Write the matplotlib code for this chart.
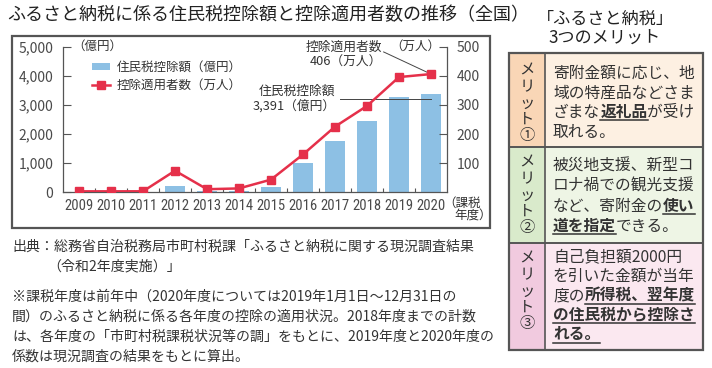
import matplotlib
matplotlib.use('Agg')
import matplotlib.pyplot as plt
from matplotlib import font_manager
from matplotlib.patches import Rectangle
from matplotlib.lines import Line2D
import numpy as np

# ---------------- data ----------------
years = ['2009', '2010', '2011', '2012', '2013', '2014', '2015',
         '2016', '2017', '2018', '2019', '2020']
deduction_oku = [19, 20, 19, 213, 45, 55, 180, 1002, 1767, 2448, 3265, 3391]   # 億円
persons_man = [3.3, 3.3, 3.4, 74.1, 10.6, 13.3, 43.6, 129.9, 225.4, 296.7, 395.7, 406.0]  # 万人
left_ticks = [0, 1000, 2000, 3000, 4000, 5000]
right_ticks = [100, 200, 300, 400, 500]

title = 'ふるさと納税に係る住民税控除額と控除適用者数の推移（全国）'
legend_labels = ['住民税控除額（億円）', '控除適用者数（万人）']
note_source = ['出典：総務省自治税務局市町村税課「ふるさと納税に関する現況調査結果',
               '（令和2年度実施）」']
note_lines = ['※課税年度は前年中（2020年度については2019年1月1日～12月31日の',
              '間）のふるさと納税に係る各年度の控除の適用状況。2018年度までの計数',
              'は、各年度の「市町村税課税状況等の調」をもとに、2019年度と2020年度の',
              '係数は現況調査の結果をもとに算出。']
panel_title = ['「ふるさと納税」', '3つのメリット']
merit_labels = ['メリット①', 'メリット②', 'メリット③']
# each merit: list of lines; each line: list of (text, bold_underlined)
merit_texts = [
    [[('寄附金額に応じ、地', False)],
     [('域の特産品などさま', False)],
     [('ざまな', False), ('返礼品', True), ('が受け', False)],
     [('取れる。', False)]],
    [[('被災地支援、新型コ', False)],
     [('ロナ禍での観光支援', False)],
     [('など、寄附金の', False), ('使い', True)],
     [('道を指定', True), ('できる。', False)]],
    [[('自己負担額2000円', False)],
     [('を引いた金額が当年', False)],
     [('度の', False), ('所得税、翌年度', True)],
     [('の住民税から控除さ', True)],
     [('れる。', True)]],
]

# ---------------- style ----------------
plt.rcParams['font.family'] = ['Noto Sans CJK JP', 'DejaVu Sans']
names = {f.name for f in font_manager.fontManager.ttflist}
NARROW = None
for cand in ['Liberation Sans Narrow', 'Roboto Condensed', 'Open Sans Condensed']:
    if cand in names:
        NARROW = cand
        break

TXT = '#333333'
TICK = '#4a4a4a'
BAR = '#8dc0e4'
RED = '#e5304a'
W, H = 712, 368

fig = plt.figure(figsize=(W / 100, H / 100), dpi=100)
fig.patch.set_facecolor('white')


def fx(x):
    return x / W


def fy(y):
    return 1 - y / H


# frame around chart
fig.add_artist(Rectangle((fx(12), fy(228)), (490 - 12) / W, (228 - 36) / H,
                         transform=fig.transFigure, fill=False,
                         edgecolor='#555555', lw=1.6))

fig.text(fx(7), fy(15), title, fontsize=13.0, color='#222222',
         ha='left', va='center')

# ---------------- chart ----------------
ax = fig.add_axes([fx(63), fy(192.3), 384 / W, 145.6 / H])
ax2 = ax.twinx()
x = np.arange(len(years))

bars = ax.bar(x, deduction_oku, width=0.6, color=BAR, zorder=2)
ax.set_xlim(-0.5, len(years) - 0.5)
ax.set_ylim(0, 5000)
ax.set_yticks(left_ticks)
ax.set_yticklabels([f'{v:,}' for v in left_ticks])
ax.set_xticks(x)
ax.set_xticklabels(years)
ax.set_xticks(np.arange(len(years) - 1) + 0.5, minor=True)
if NARROW:
    ax.tick_params(axis='x', which='major', length=0, pad=5, labelsize=10.5,
                   labelcolor=TICK)
    for lab in ax.get_xticklabels():
        lab.set_fontfamily(NARROW)
else:
    ax.tick_params(axis='x', which='major', length=0, pad=5, labelsize=9.2,
                   labelcolor=TICK)
ax.tick_params(axis='x', which='minor', length=3, direction='in',
               color='#555555', width=0.8)
ax.tick_params(axis='y', length=6, direction='in', color='#555555',
               width=0.8, pad=7, labelsize=10, labelcolor=TICK)
for s in ['top', 'right']:
    ax.spines[s].set_visible(False)
for s in ['left', 'bottom']:
    ax.spines[s].set_color('#555555')
    ax.spines[s].set_linewidth(0.9)

line, = ax2.plot(x, persons_man, color=RED, lw=1.8, marker='s',
                 markersize=6, zorder=3)
ax2.set_ylim(0, 500)
ax2.set_yticks(right_ticks)
ax2.tick_params(axis='y', length=6, direction='in', color='#555555',
                width=0.8, pad=7, labelsize=10, labelcolor=TICK)
for s in ['top', 'left', 'bottom']:
    ax2.spines[s].set_visible(False)
ax2.spines['right'].set_color('#555555')
ax2.spines['right'].set_linewidth(0.9)

# units
ax.text(0.088, 1.0, '（億円）', transform=ax.transAxes, fontsize=9,
        color=TXT, ha='center', va='center')
ax2.text(0.918, 1.0, '（万人）', transform=ax2.transAxes, fontsize=9,
         color=TXT, ha='center', va='center')
ax2.text(0.99, -0.073, '（課税', transform=ax2.transAxes, fontsize=9,
         color=TXT, ha='left', va='center', clip_on=False)
ax2.text(1.02, -0.163, '年度）', transform=ax2.transAxes, fontsize=9,
         color=TXT, ha='left', va='center', clip_on=False)

leg = ax2.legend([bars, line], legend_labels, loc='upper left',
                 bbox_to_anchor=(0.0755, 0.905), frameon=False, fontsize=9,
                 handlelength=1.45, handleheight=0.5, handletextpad=0.5,
                 labelspacing=0.4, borderaxespad=0, borderpad=0)
for t in leg.get_texts():
    t.set_color(TXT)

# annotations
last = len(years) - 1
ax2.text(9.47, 499, '控除適用者数', fontsize=9.2, color=TXT,
         ha='right', va='center')
ax2.text(9.47, 448, f'{persons_man[-1]:.0f}（万人）', fontsize=9.2,
         color=TXT, ha='right', va='center')
ax2.plot([9.52, last], [482, persons_man[-1]], color='#444444', lw=0.7,
         zorder=2.5)
ax.text(8.01, 3455, '住民税控除額', fontsize=9.2, color=TXT,
        ha='right', va='center')
ax.text(8.01, 2964, f'{deduction_oku[-1]:,}（億円）', fontsize=9.2,
        color=TXT, ha='right', va='center')
ax.plot([8.17, last], [deduction_oku[-1] - 180] * 2, color='#444444',
        lw=0.7, zorder=2.5)

# ---------------- notes ----------------
NFS = 10.05
fig.text(fx(12), fy(247), note_source[0], fontsize=NFS, color=TXT,
         ha='left', va='center')
fig.text(fx(47), fy(266), note_source[1], fontsize=NFS, color=TXT,
         ha='left', va='center')
for i, s in enumerate(note_lines):
    fig.text(fx(12), fy(296.7 + 20 * i), s, fontsize=NFS, color=TXT,
             ha='left', va='center')

# ---------------- right panel ----------------
fig.text(fx(605), fy(18.5), panel_title[0], fontsize=12.3, color='#222222',
         ha='center', va='center')
fig.text(fx(605), fy(38), panel_title[1], fontsize=12.3, color='#222222',
         ha='center', va='center')

rows = [(52.7, 146.7), (146.7, 242.7), (242.7, 350)]
label_bg = ['#f9d6b6', '#d9eacb', '#f1cadf']
text_bg = ['#fdf0e2', '#eef5e5', '#fbe8f0']
box_l, box_div, box_r = 509, 545, 703
for (t0, t1), lb, tb in zip(rows, label_bg, text_bg):
    fig.add_artist(Rectangle((fx(box_l), fy(t1)), (box_div - box_l) / W,
                             (t1 - t0) / H, transform=fig.transFigure,
                             facecolor=lb, edgecolor='none'))
    fig.add_artist(Rectangle((fx(box_div), fy(t1)), (box_r - box_div) / W,
                             (t1 - t0) / H, transform=fig.transFigure,
                             facecolor=tb, edgecolor='none'))
    fig.add_artist(Line2D([fx(box_l), fx(box_r)], [fy(t1), fy(t1)],
                          color='#555555', lw=1.4))
fig.add_artist(Rectangle((fx(box_l), fy(350)), (box_r - box_l) / W,
                         (350 - 52.7) / H, transform=fig.transFigure,
                         fill=False, edgecolor='#555555', lw=1.6))
fig.add_artist(Line2D([fx(box_div), fx(box_div)], [fy(52.7), fy(350)],
                      color='#555555', lw=1.2))

# vertical labels
label_centers = [103, 195, 291]
for lab, yc in zip(merit_labels, label_centers):
    n = len(lab)
    for i, ch in enumerate(lab):
        fig.text(fx(527), fy(yc + (i - (n - 1) / 2) * 16.3), ch,
                 fontsize=11, color=TXT, ha='center', va='center')

# rich text lines
renderer = fig.canvas.get_renderer()
first_centers = [71.7, 164.5, 255]
spacings = [19.6, 20, 19.6]
FS = 11.3
for lines, y0, sp in zip(merit_texts, first_centers, spacings):
    for i, segs in enumerate(lines):
        base = y0 + i * sp + 6
        xp = 553
        for s, emph in segs:
            t = fig.text(fx(xp), fy(base), s, fontsize=FS, color=TXT,
                         fontweight='bold' if emph else 'normal',
                         ha='left', va='baseline')
            w = t.get_window_extent(renderer).width
            if emph:
                fig.add_artist(Line2D([fx(xp), fx(xp + w)],
                                      [fy(base + 3.5), fy(base + 3.5)],
                                      color=TXT, lw=1.1))
            xp += w

fig.savefig('out.png', dpi=100, facecolor='white')
